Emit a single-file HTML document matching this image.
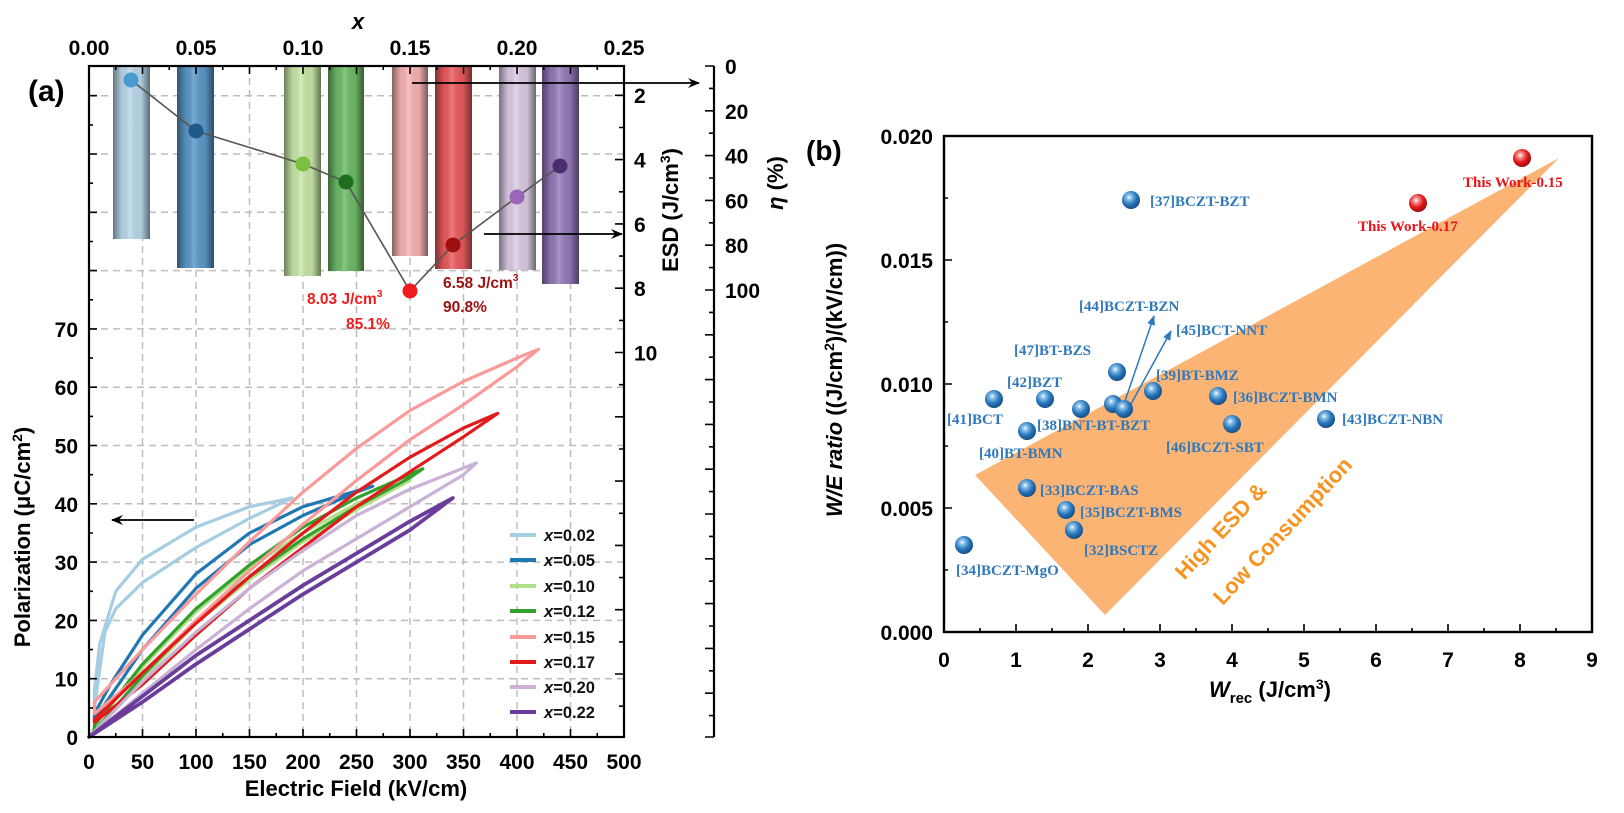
<!DOCTYPE html>
<html><head><meta charset="utf-8"><style>
html,body{margin:0;padding:0;background:#fff;}
svg{display:block;}
text{font-family:"Liberation Sans",Arial,sans-serif;font-weight:bold;}
.t{font-size:21px;}
.lb text{font-family:"Liberation Serif",serif;font-weight:bold;font-size:15px;fill:#2f78bb;}
.lr text{font-family:"Liberation Serif",serif;font-weight:bold;font-size:15px;fill:#e8141c;}
</style></head><body>
<svg width="1624" height="813" viewBox="0 0 1624 813" xmlns="http://www.w3.org/2000/svg">
<defs>
<linearGradient id="cyl" x1="0" x2="1" y1="0" y2="0">
<stop offset="0" stop-color="#000" stop-opacity="0.45"/>
<stop offset="0.25" stop-color="#000" stop-opacity="0.05"/>
<stop offset="0.45" stop-color="#fff" stop-opacity="0.2"/>
<stop offset="0.75" stop-color="#000" stop-opacity="0.05"/>
<stop offset="1" stop-color="#000" stop-opacity="0.5"/>
</linearGradient>
<radialGradient id="sb" cx="0.4" cy="0.35" r="0.65">
<stop offset="0" stop-color="#ffffff"/><stop offset="0.2" stop-color="#8cc2ea"/><stop offset="0.6" stop-color="#2a78bd"/><stop offset="1" stop-color="#164f86"/>
</radialGradient>
<radialGradient id="sr" cx="0.4" cy="0.35" r="0.65">
<stop offset="0" stop-color="#ffffff"/><stop offset="0.2" stop-color="#f59a9a"/><stop offset="0.6" stop-color="#e41a1c"/><stop offset="1" stop-color="#9c0c0e"/>
</radialGradient>
<marker id="ah" markerWidth="12" markerHeight="10" refX="11" refY="5" orient="auto" markerUnits="userSpaceOnUse">
<path d="M0,0 L12,5 L0,10 L4,5 Z" fill="#000"/></marker>
<marker id="ahb" markerWidth="10" markerHeight="8" refX="9" refY="4" orient="auto" markerUnits="userSpaceOnUse">
<path d="M0,0 L10,4 L0,8 Z" fill="#2f78bb"/></marker>
</defs>

<g stroke="#bdbdbd" stroke-width="1.5" stroke-dasharray="7,5" fill="none">
<path d="M142.5,66V737M196,66V737M249.5,66V737M303,66V737M356.5,66V737M410,66V737M463.5,66V737M517,66V737M570.5,66V737"/>
<path d="M89,678.7H624M89,620.4H624M89,562.1H624M89,503.8H624M89,445.5H624M89,387.2H624M89,328.9H624M89,270.6H624M89,212.3H624M89,154H624M89,95.7H624"/>
</g>

<g>
<rect x="113" y="66" width="37" height="173" fill="#b9d8ea"/><rect x="113" y="66" width="37" height="173" fill="url(#cyl)"/>
<rect x="177" y="66" width="37" height="202" fill="#5a98c8"/><rect x="177" y="66" width="37" height="202" fill="url(#cyl)"/>
<rect x="284" y="66" width="37" height="210" fill="#c9e6a8"/><rect x="284" y="66" width="37" height="210" fill="url(#cyl)"/>
<rect x="328" y="66" width="36" height="205" fill="#6cbb66"/><rect x="328" y="66" width="36" height="205" fill="url(#cyl)"/>
<rect x="392" y="66" width="36" height="190" fill="#f7b3b3"/><rect x="392" y="66" width="36" height="190" fill="url(#cyl)"/>
<rect x="435" y="66" width="37" height="203" fill="#ea5a5c"/><rect x="435" y="66" width="37" height="203" fill="url(#cyl)"/>
<rect x="499" y="66" width="37" height="204" fill="#dccbe4"/><rect x="499" y="66" width="37" height="204" fill="url(#cyl)"/>
<rect x="542" y="66" width="37" height="218" fill="#9479b9"/><rect x="542" y="66" width="37" height="218" fill="url(#cyl)"/>
</g>

<polyline points="131,80 196,131 303,164 346,182 410,291 453,245 517,197 560,166" fill="none" stroke="#555" stroke-width="1.6"/>
<circle cx="131" cy="80" r="7.5" fill="#4a9ad0"/>
<circle cx="196" cy="131" r="7.5" fill="#1f5a88"/>
<circle cx="303" cy="164" r="7.5" fill="#7ac040"/>
<circle cx="346" cy="182" r="7.5" fill="#1e6e1e"/>
<circle cx="410" cy="291" r="7.5" fill="#ee1c1c"/>
<circle cx="453" cy="245" r="7.5" fill="#9e1010"/>
<circle cx="517" cy="197" r="7.5" fill="#9966bb"/>
<circle cx="560" cy="166" r="7.5" fill="#4a2d6e"/>

<text x="307" y="304" font-size="15.5" fill="#ee1c1c">8.03 J/cm<tspan font-size="10" dy="-7">3</tspan></text>
<text x="346" y="329" font-size="15.5" fill="#ee1c1c">85.1%</text>
<text x="443" y="288" font-size="15.5" fill="#9e1010">6.58 J/cm<tspan font-size="10" dy="-7">3</tspan></text>
<text x="443" y="312" font-size="15.5" fill="#9e1010">90.8%</text>

<line x1="412" y1="83" x2="699" y2="83" stroke="#000" stroke-width="1.8" marker-end="url(#ah)"/>
<line x1="484" y1="234" x2="622" y2="234" stroke="#000" stroke-width="1.8" marker-end="url(#ah)"/>
<line x1="194" y1="520" x2="112" y2="520" stroke="#000" stroke-width="1.8" marker-end="url(#ah)"/>

<g fill="none" stroke-width="3.2" stroke-linejoin="round" stroke-linecap="round">
<polygon stroke="#a6cee3" points="292.3,498 249.5,506.7 196,527.1 142.5,559.2 115.8,591.3 99.7,643.7 94.4,690.4 94.4,707.9 105,632 115.8,608.7 142.5,582.5 196,547.5 249.5,518.4"/>
<polygon stroke="#1f78b4" points="372.6,486.3 303,506.7 249.5,533 196,573.8 142.5,635 110.4,684.5 94.4,713.7 94.4,719.5 110.4,696.2 142.5,649.6 196,588.3 249.5,544.6 303,515.5 356.5,492.1"/>
<polygon stroke="#b2df8a" points="410,480.5 356.5,503.8 303,533 249.5,567.9 196,611.7 142.5,667 99.7,719.5 89,737 99.7,725.3 142.5,678.7 196,623.3 249.5,579.6 303,541.7 356.5,509.6"/>
<polygon stroke="#33a02c" points="422.8,468.8 356.5,498 303,527.1 249.5,565 196,608.7 142.5,664.1 94.4,725.3 94.4,731.2 142.5,675.8 196,620.4 249.5,576.7 303,538.8 356.5,506.7 410,477.6"/>
<polygon stroke="#fb9a99" points="538.4,349.3 517,358 463.5,381.4 410,410.5 356.5,448.4 303,492.1 249.5,541.7 196,594.2 142.5,649.6 94.4,702 94.4,713.7 142.5,672.9 196,620.4 249.5,570.8 303,524.2 356.5,480.5 410,439.7 463.5,404.7 517,366.8"/>
<polygon stroke="#e31a1c" points="497.7,413.4 463.5,428 410,457.2 356.5,492.1 303,533 249.5,576.7 196,623.3 142.5,672.9 94.4,719.5 94.4,722.4 142.5,684.5 196,635 249.5,588.3 303,547.5 356.5,506.7 410,471.7 463.5,436.8"/>
<polygon stroke="#cab2d6" points="476.3,463 410,489.2 356.5,515.5 303,550.4 249.5,588.3 196,632.1 142.5,681.6 89,737 142.5,693.3 196,649.6 249.5,608.7 303,570.8 356.5,538.8 410,506.7 463.5,474.7"/>
<polygon stroke="#6a3d9a" stroke-width="3.8" points="452.8,498 410,521.3 356.5,553.4 303,585.4 249.5,620.4 196,655.4 142.5,696.2 89,737 142.5,702 196,664.1 249.5,629.1 303,594.2 356.5,562.1 410,530"/>
</g>

<g stroke-width="4">
<line x1="510" y1="535" x2="536" y2="535" stroke="#a6cee3"/>
<line x1="510" y1="560" x2="536" y2="560" stroke="#1f78b4"/>
<line x1="510" y1="586" x2="536" y2="586" stroke="#b2df8a"/>
<line x1="510" y1="611" x2="536" y2="611" stroke="#33a02c"/>
<line x1="510" y1="637" x2="536" y2="637" stroke="#fb9a99"/>
<line x1="510" y1="662" x2="536" y2="662" stroke="#e31a1c"/>
<line x1="510" y1="687" x2="536" y2="687" stroke="#cab2d6"/>
<line x1="510" y1="712" x2="536" y2="712" stroke="#6a3d9a"/>
</g>
<g font-size="16.5" fill="#111">
<text x="544" y="541"><tspan font-style="italic">x</tspan>=0.02</text>
<text x="544" y="566"><tspan font-style="italic">x</tspan>=0.05</text>
<text x="544" y="592"><tspan font-style="italic">x</tspan>=0.10</text>
<text x="544" y="617"><tspan font-style="italic">x</tspan>=0.12</text>
<text x="544" y="643"><tspan font-style="italic">x</tspan>=0.15</text>
<text x="544" y="668"><tspan font-style="italic">x</tspan>=0.17</text>
<text x="544" y="693"><tspan font-style="italic">x</tspan>=0.20</text>
<text x="544" y="718"><tspan font-style="italic">x</tspan>=0.22</text>
</g>

<rect x="89" y="66" width="535" height="671" fill="none" stroke="#000" stroke-width="2.2"/>
<g stroke="#000" stroke-width="1.6">
<path d="M142.5,737v-8M196,737v-8M249.5,737v-8M303,737v-8M356.5,737v-8M410,737v-8M463.5,737v-8M517,737v-8M570.5,737v-8
M115.75,737v-4M169.25,737v-4M222.75,737v-4M276.25,737v-4M329.75,737v-4M383.25,737v-4M436.75,737v-4M490.25,737v-4M543.75,737v-4M597.25,737v-4"/>
<path d="M142.5,66v8M196,66v8M249.5,66v8M303,66v8M356.5,66v8M410,66v8M463.5,66v8M517,66v8M570.5,66v8
M115.75,66v4M169.25,66v4M222.75,66v4M276.25,66v4M329.75,66v4M383.25,66v4M436.75,66v4M490.25,66v4M543.75,66v4M597.25,66v4"/>
<path d="M89,678.7h8M89,620.4h8M89,562.1h8M89,503.8h8M89,445.5h8M89,387.2h8M89,328.9h8M89,270.6h8M89,212.3h8M89,154h8M89,95.7h8
M89,707.9h4M89,649.6h4M89,591.3h4M89,533h4M89,474.7h4M89,416.4h4M89,358.1h4M89,299.8h4M89,241.5h4M89,183.2h4M89,124.9h4"/>
<path d="M624,95.3h-9M624,159.6h-9M624,223.9h-9M624,288.2h-9M624,352.5h-9M624,416.8h-9M624,481.1h-9M624,545.4h-9M624,609.7h-9M624,674h-9
M624,127.5h-5M624,191.8h-5M624,256.1h-5M624,320.4h-5M624,384.7h-5M624,449h-5M624,513.3h-5M624,577.6h-5M624,641.9h-5M624,706.2h-5"/>
<path d="M714,66V737" stroke-width="2.2"/>
<path d="M714,66h-9M714,110.8h-9M714,155.6h-9M714,200.4h-9M714,245.2h-9M714,290h-9M714,334.8h-9M714,379.6h-9M714,424.4h-9M714,469.2h-9M714,514h-9M714,558.8h-9M714,603.6h-9M714,648.4h-9M714,693.2h-9M714,737h-9
M714,88.4h-5M714,133.2h-5M714,178h-5M714,222.8h-5M714,267.6h-5M714,312.4h-5M714,357.2h-5M714,402h-5M714,446.8h-5M714,491.6h-5M714,536.4h-5M714,581.2h-5M714,626h-5M714,670.8h-5M714,715.6h-5"/>
</g>

<g class="t" text-anchor="middle">
<text x="89" y="769">0</text><text x="142.5" y="769">50</text><text x="196" y="769">100</text><text x="249.5" y="769">150</text><text x="303" y="769">200</text><text x="356.5" y="769">250</text><text x="410" y="769">300</text><text x="463.5" y="769">350</text><text x="517" y="769">400</text><text x="570.5" y="769">450</text><text x="624" y="769">500</text>
<text x="89" y="55">0.00</text><text x="196" y="55">0.05</text><text x="303" y="55">0.10</text><text x="410" y="55">0.15</text><text x="517" y="55">0.20</text><text x="624" y="55">0.25</text>
</g>
<text x="358" y="29" font-size="22" font-style="italic" text-anchor="middle">x</text>
<g class="t" text-anchor="end">
<text x="78" y="745">0</text><text x="78" y="686.7">10</text><text x="78" y="628.4">20</text><text x="78" y="570.1">30</text><text x="78" y="511.8">40</text><text x="78" y="453.5">50</text><text x="78" y="395.2">60</text><text x="78" y="336.9">70</text>
</g>
<g class="t">
<text x="634" y="103">2</text><text x="634" y="167.6">4</text><text x="634" y="231.9">6</text><text x="634" y="296.2">8</text><text x="634" y="360.5">10</text>
<text x="725" y="74">0</text><text x="725" y="118.8">20</text><text x="725" y="163.6">40</text><text x="725" y="208.4">60</text><text x="725" y="253.2">80</text><text x="725" y="298">100</text>
</g>
<text x="356" y="796" font-size="22" text-anchor="middle">Electric Field (kV/cm)</text>
<text transform="translate(30,537) rotate(-90)" font-size="22" text-anchor="middle">Polarization (μC/cm<tspan font-size="14" dy="-8">2</tspan><tspan dy="8">)</tspan></text>
<text transform="translate(678,210) rotate(-90)" font-size="22" text-anchor="middle">ESD (J/cm<tspan font-size="14" dy="-8">3</tspan><tspan dy="8">)</tspan></text>
<text transform="translate(783,183) rotate(-90)" font-size="22" text-anchor="middle"><tspan font-style="italic">η</tspan> (%)</text>
<text x="28" y="101" font-size="30">(a)</text>

<polygon points="975,475 1559,158 1105,615" fill="#fbb474"/>
<text transform="translate(1226,536) rotate(-47)" font-size="22" fill="#f7931e" text-anchor="middle">High ESD &amp;</text>
<text transform="translate(1288,536) rotate(-47)" font-size="22" fill="#f7931e" text-anchor="middle">Low Consumption</text>

<line x1="1124" y1="404" x2="1154" y2="316" stroke="#2f78bb" stroke-width="1.5" marker-end="url(#ahb)"/>
<line x1="1131" y1="404" x2="1171" y2="331" stroke="#2f78bb" stroke-width="1.5" marker-end="url(#ahb)"/>

<g fill="url(#sb)">
<circle cx="1131" cy="200" r="9"/>
<circle cx="994" cy="399" r="9"/>
<circle cx="1045" cy="399" r="9"/>
<circle cx="1081" cy="409" r="9"/>
<circle cx="1117" cy="372" r="9"/>
<circle cx="1113" cy="404" r="9"/>
<circle cx="1124" cy="409" r="9"/>
<circle cx="1153" cy="391" r="9"/>
<circle cx="1218" cy="396" r="9"/>
<circle cx="1232" cy="424" r="9"/>
<circle cx="1326" cy="419" r="9"/>
<circle cx="1027" cy="431" r="9"/>
<circle cx="1027" cy="488" r="9"/>
<circle cx="1066" cy="510" r="9"/>
<circle cx="1074" cy="530" r="9"/>
<circle cx="964" cy="545" r="9"/>
</g>
<circle cx="1522" cy="158" r="9" fill="url(#sr)"/>
<circle cx="1418" cy="203" r="9" fill="url(#sr)"/>

<g class="lb">
<text x="1150" y="206">[37]BCZT-BZT</text>
<text x="1079" y="311">[44]BCZT-BZN</text>
<text x="1176" y="335">[45]BCT-NNT</text>
<text x="1014" y="355">[47]BT-BZS</text>
<text x="1007" y="387">[42]BZT</text>
<text x="1156" y="380">[39]BT-BMZ</text>
<text x="1233" y="402">[36]BCZT-BMN</text>
<text x="947" y="424">[41]BCT</text>
<text x="1037" y="430">[38]BNT-BT-BZT</text>
<text x="1342" y="424">[43]BCZT-NBN</text>
<text x="979" y="458">[40]BT-BMN</text>
<text x="1166" y="452">[46]BCZT-SBT</text>
<text x="1040" y="495">[33]BCZT-BAS</text>
<text x="1080" y="517">[35]BCZT-BMS</text>
<text x="1084" y="555">[32]BSCTZ</text>
<text x="956" y="575">[34]BCZT-MgO</text>
</g>
<g class="lr">
<text x="1463" y="187">This Work-0.15</text>
<text x="1358" y="231">This Work-0.17</text>
</g>

<rect x="944" y="136" width="648" height="496" fill="none" stroke="#000" stroke-width="2.4"/>
<g stroke="#000" stroke-width="1.6">
<path d="M1016,632v-8M1088,632v-8M1160,632v-8M1232,632v-8M1304,632v-8M1376,632v-8M1448,632v-8M1520,632v-8
M980,632v-4M1052,632v-4M1124,632v-4M1196,632v-4M1268,632v-4M1340,632v-4M1412,632v-4M1484,632v-4M1556,632v-4"/>
<path d="M944,508h8M944,384h8M944,260h8M944,570h4M944,446h4M944,322h4M944,198h4"/>
</g>
<g class="t" text-anchor="middle">
<text x="944" y="667">0</text><text x="1016" y="667">1</text><text x="1088" y="667">2</text><text x="1160" y="667">3</text><text x="1232" y="667">4</text><text x="1304" y="667">5</text><text x="1376" y="667">6</text><text x="1448" y="667">7</text><text x="1520" y="667">8</text><text x="1592" y="667">9</text>
</g>
<g class="t" text-anchor="end">
<text x="933" y="640">0.000</text><text x="933" y="516">0.005</text><text x="933" y="392">0.010</text><text x="933" y="268">0.015</text><text x="933" y="144">0.020</text>
</g>
<text x="1270" y="697" font-size="22" text-anchor="middle"><tspan font-style="italic">W</tspan><tspan font-size="15" dy="6">rec</tspan><tspan dy="-6"> (J/cm</tspan><tspan font-size="14" dy="-8">3</tspan><tspan dy="8">)</tspan></text>
<text transform="translate(842,380) rotate(-90)" font-size="22" text-anchor="middle"><tspan font-style="italic">W/E ratio</tspan> ((J/cm<tspan font-size="14" dy="-8">2</tspan><tspan dy="8">)/(kV/cm))</tspan></text>
<text x="806" y="160" font-size="28">(b)</text>
</svg>
</body></html>
